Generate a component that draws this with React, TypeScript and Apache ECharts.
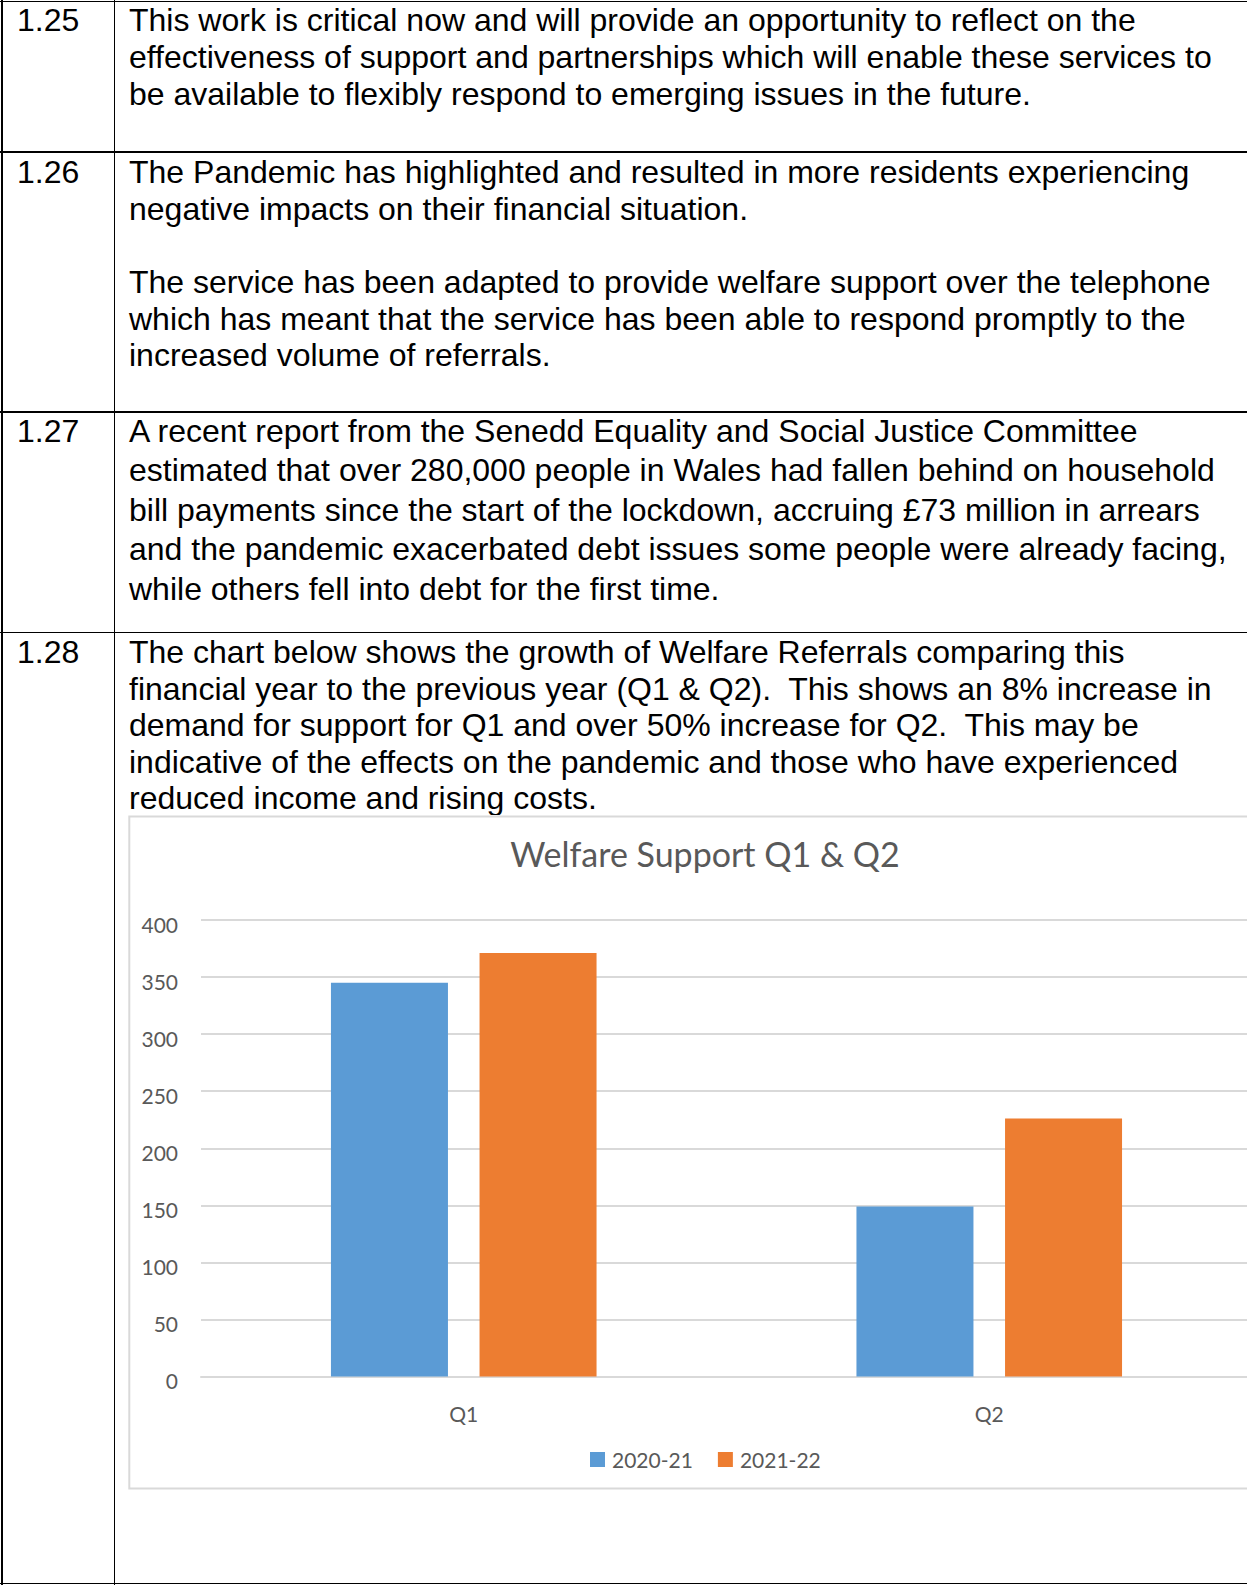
import React, { useEffect, useRef } from "react";
import * as echarts from "echarts";

// ---- chart data ----
const categories = ["Q1", "Q2"];
const seriesNames = ["2020-21", "2021-22"];
const values2020 = [345, 149];
const values2021 = [371, 226];
const yMin = 0;
const yMax = 400;
const yInterval = 50;
const chartTitle = "Welfare Support Q1 & Q2";

// ---- document text ----
const rowNumbers = ["1.25", "1.26", "1.27", "1.28"];
const row125 = [
  "This work is critical now and will provide an opportunity to reflect on the",
  "effectiveness of support and partnerships which will enable these services to",
  "be available to flexibly respond to emerging issues in the future.",
];
const row126 = [
  "The Pandemic has highlighted and resulted in more residents experiencing",
  "negative impacts on their financial situation.",
  "",
  "The service has been adapted to provide welfare support over the telephone",
  "which has meant that the service has been able to respond promptly to the",
  "increased volume of referrals.",
];
const row127 = [
  "A recent report from the Senedd Equality and Social Justice Committee",
  "estimated that over 280,000 people in Wales had fallen behind on household",
  "bill payments since the start of the lockdown, accruing £73 million in arrears",
  "and the pandemic exacerbated debt issues some people were already facing,",
  "while others fell into debt for the first time.",
];
const row128 = [
  "The chart below shows the growth of Welfare Referrals comparing this",
  "financial year to the previous year (Q1 & Q2).  This shows an 8% increase in",
  "demand for support for Q1 and over 50% increase for Q2.  This may be",
  "indicative of the effects on the pandemic and those who have experienced",
  "reduced income and rising costs.",
];

const FS = 32;
const LH = 36.6;
const baselineOffset = (LH - 1.117 * FS) / 2 + 0.905 * FS;

type Row = { num: string; lines: string[]; firstBaseline: number; spacing: number };
const rows: Row[] = [
  { num: rowNumbers[0], lines: row125, firstBaseline: 31.5, spacing: 36.8 },
  { num: rowNumbers[1], lines: row126, firstBaseline: 183.5, spacing: 36.6 },
  { num: rowNumbers[2], lines: row127, firstBaseline: 442, spacing: 39.6 },
  { num: rowNumbers[3], lines: row128, firstBaseline: 663.3, spacing: 36.6 },
];

const hLines = [0.5, 151, 411, 631.6, 1582.8];

function Chart() {
  const ref = useRef<HTMLDivElement>(null);
  useEffect(() => {
    if (!ref.current) return;
    const chart = echarts.init(ref.current, undefined, { renderer: "svg" });
    const font = "Lato, 'Open Sans', sans-serif";
    chart.setOption({
      animation: false,
      backgroundColor: "#ffffff",
      title: {
        text: chartTitle,
        left: 572,
        top: 13,
        textAlign: "center",
        textStyle: {
          fontFamily: font,
          fontSize: 34,
          fontWeight: "normal",
          color: "#595959",
          lineHeight: 40,
        },
      },
      graphic: [
        {
          type: "rect",
          shape: { x: 1.3, y: 1.5, width: 1300, height: 672 },
          style: { fill: "none", stroke: "#d9d9d9", lineWidth: 2 },
          silent: true,
          z: -1,
        },
      ],
      legend: {
        data: seriesNames,
        left: 457,
        top: 629,
        itemWidth: 15,
        itemHeight: 15,
        itemGap: 25,
        icon: "rect",
        textStyle: { fontFamily: font, fontSize: 21, color: "#595959", padding: [0, 0, 0, 2] },
      },
      grid: { left: 73, top: 105, width: 1051, height: 456.5, containLabel: false },
      xAxis: {
        type: "category",
        data: categories,
        axisLine: { show: true, lineStyle: { color: "#d9d9d9", width: 2 } },
        axisTick: { show: false },
        axisLabel: { margin: 26, fontFamily: font, fontSize: 21, color: "#595959" },
      },
      yAxis: {
        type: "value",
        min: yMin,
        max: yMax,
        interval: yInterval,
        axisLine: { show: false },
        axisTick: { show: false },
        axisLabel: {
          margin: 23,
          fontFamily: font,
          fontSize: 21,
          color: "#595959",
          verticalAlign: "top",
          lineHeight: 8,
        },
        splitLine: { show: true, lineStyle: { color: "#d9d9d9", width: 2 } },
      },
      series: [
        {
          name: seriesNames[0],
          type: "bar",
          data: values2020,
          barWidth: 117,
          barGap: "27%",
          itemStyle: { color: "#5B9BD5" },
        },
        {
          name: seriesNames[1],
          type: "bar",
          data: values2021,
          barWidth: 117,
          barGap: "27%",
          itemStyle: { color: "#ED7D31" },
        },
      ],
    });
    return () => chart.dispose();
  }, []);
  return (
    <div
      ref={ref}
      style={{ position: "absolute", left: 128, top: 815, width: 1160, height: 676 }}
    />
  );
}

export default function App() {
  const textStyle: React.CSSProperties = {
    position: "absolute",
    fontFamily: "'Liberation Sans', Arial, sans-serif",
    fontSize: FS,
    lineHeight: LH + "px",
    height: LH,
    color: "#000",
    whiteSpace: "pre",
  };
  return (
    <div
      style={{
        position: "absolute",
        left: 0,
        top: 0,
        width: 1247,
        height: 1585,
        overflow: "hidden",
        background: "#fff",
      }}
    >
      {hLines.map((y, i) => (
        <div
          key={"h" + i}
          style={{ position: "absolute", left: 0, top: y, width: 1300, height: 1.5, background: "#000" }}
        />
      ))}
      <div style={{ position: "absolute", left: 1, top: 0, width: 1.5, height: 1585, background: "#000" }} />
      <div style={{ position: "absolute", left: 113.5, top: 0, width: 1.5, height: 1585, background: "#000" }} />
      {rows.map((r, ri) => (
        <React.Fragment key={"r" + ri}>
          <div style={{ ...textStyle, left: 17, top: r.firstBaseline - baselineOffset }}>{r.num}</div>
          {r.lines.map((ln, li) => (
            <div
              key={"l" + li}
              style={{ ...textStyle, left: 129, top: r.firstBaseline + li * r.spacing - baselineOffset }}
            >
              {ln}
            </div>
          ))}
        </React.Fragment>
      ))}
      <Chart />
    </div>
  );
}
